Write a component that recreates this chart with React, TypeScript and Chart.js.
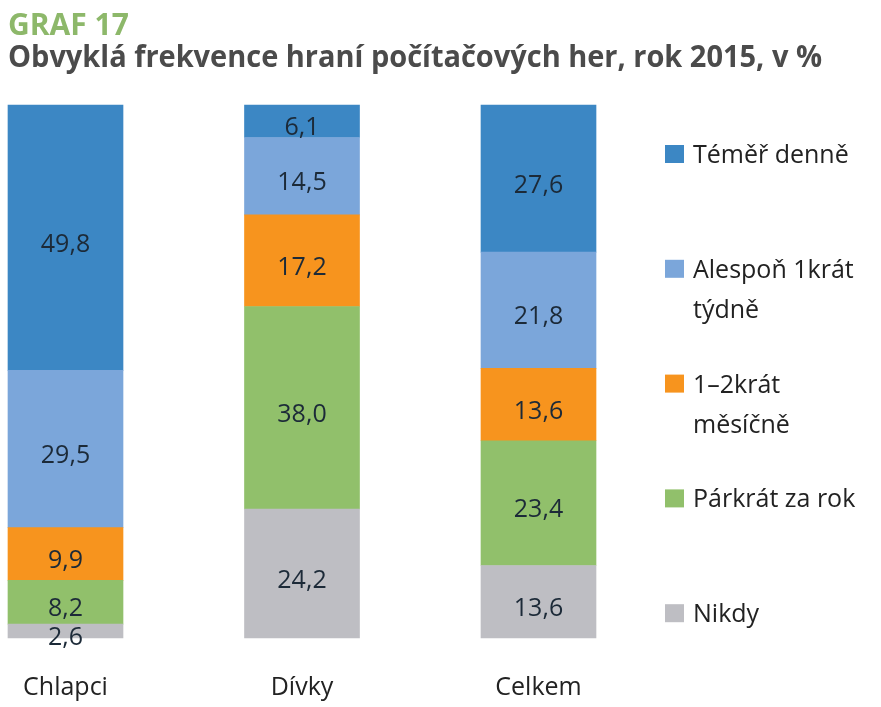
import React, { useEffect, useRef } from "react";
import { Chart, registerables } from "chart.js";

Chart.register(...registerables);

const categories = ["Chlapci", "Dívky", "Celkem"];
const seriesNames = ["Nikdy", "Párkrát za rok", "1–2krát měsíčně", "Alespoň 1krát týdně", "Téměř denně"];
const nikdy = [2.6, 24.2, 13.6];
const parkrat = [8.2, 38.0, 23.4];
const mesicne = [9.9, 17.2, 13.6];
const tydne = [29.5, 14.5, 21.8];
const denne = [49.8, 6.1, 27.6];
const seriesColors = ["#BEBEC3", "#91C06B", "#F7941E", "#7BA6DA", "#3C87C4"];
// legend text, top to bottom (reverse of stacking order)
const legendLines = [
  ["Téměř denně"],
  ["Alespoň 1krát", "týdně"],
  ["1–2krát", "měsíčně"],
  ["Párkrát za rok"],
  ["Nikdy"],
];
const titleText = "GRAF 17";
const subtitleText = "Obvyklá frekvence hraní počítačových her, rok 2015, v %";

const FONT = "'Open Sans', 'Noto Sans', sans-serif";

const fmt = (v: number) => v.toFixed(1).replace(".", ",");

const decorPlugin = {
  id: "decor",
  afterDatasetsDraw(chart: any) {
    const ctx = chart.ctx;
    ctx.save();
    // value labels
    ctx.font = `25px ${FONT}`;
    ctx.fillStyle = "#1c2a38";
    ctx.textAlign = "center";
    ctx.textBaseline = "alphabetic";
    chart.data.datasets.forEach((ds: any, di: number) => {
      const meta = chart.getDatasetMeta(di);
      meta.data.forEach((el: any, i: number) => {
        const v = ds.data[i];
        const cy = (el.y + el.base) / 2;
        ctx.fillText(fmt(v), el.x, cy + 14);
      });
    });
    ctx.restore();
  },
  afterDraw(chart: any) {
    const ctx = chart.ctx;
    ctx.save();
    // titles
    ctx.textAlign = "left";
    ctx.textBaseline = "alphabetic";
    ctx.fillStyle = "#8DB86A";
    ctx.font = `bold 30px ${FONT}`;
    ctx.fillText(titleText, 8, 35, 126);
    ctx.fillStyle = "#4b4b4b";
    ctx.font = `bold 30px ${FONT}`;
    ctx.fillText(subtitleText, 8, 67, 814);

    // category labels
    ctx.font = `25px ${FONT}`;
    ctx.fillStyle = "#222222";
    ctx.textAlign = "center";
    const xs = chart.scales.x;
    chart.data.labels.forEach((lab: string, i: number) => {
      ctx.fillText(lab, xs.getPixelForValue(i), 695);
    });

    // legend
    ctx.textAlign = "left";
    const n = chart.data.datasets.length;
    legendLines.forEach((lines, k) => {
      const ds = chart.data.datasets[n - 1 - k];
      const base = 163 + k * 114.8;
      ctx.fillStyle = ds.backgroundColor;
      ctx.fillRect(665, base - 18, 19, 18);
      ctx.fillStyle = "#222222";
      lines.forEach((ln, j) => {
        ctx.fillText(ln, 693, base + j * 40);
      });
    });
    ctx.restore();
  },
};

export default function App() {
  const ref = useRef<HTMLCanvasElement | null>(null);
  useEffect(() => {
    if (!ref.current) return;
    const values = [nikdy, parkrat, mesicne, tydne, denne];
    const chart = new Chart(ref.current, {
      type: "bar",
      data: {
        labels: categories,
        datasets: seriesNames.map((name, i) => ({
          label: name,
          data: values[i],
          backgroundColor: seriesColors[i],
          borderWidth: 0,
          barThickness: 115,
          clip: false as any,
        })),
      },
      options: {
        responsive: false,
        animation: false,
        devicePixelRatio: 1,
        layout: { padding: { top: 105, bottom: 69, left: 65.5, right: 342.5 } },
        plugins: {
          legend: { display: false },
          title: { display: false },
          tooltip: { enabled: false },
        },
        scales: {
          x: {
            type: "category",
            stacked: true,
            offset: false,
            display: false,
            grid: { display: false, offset: false },
          },
          y: {
            stacked: true,
            min: 0,
            max: 100,
            display: false,
          },
        },
      },
      plugins: [decorPlugin],
    });
    return () => chart.destroy();
  }, []);
  return (
    <div style={{ position: "absolute", left: 0, top: 0, width: 881, height: 707, background: "#fff" }}>
      <canvas ref={ref} width={881} height={707} style={{ display: "block" }} />
    </div>
  );
}
